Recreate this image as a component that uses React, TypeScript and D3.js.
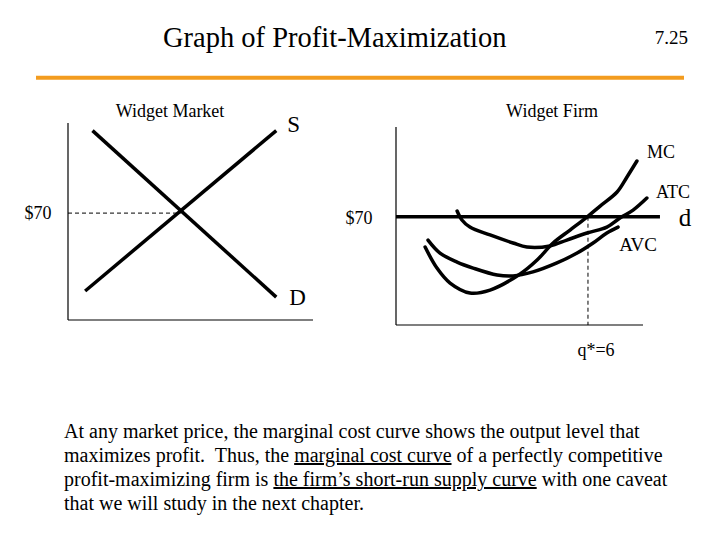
import React from "react";
import * as d3 from "d3";

// ── Data ────────────────────────────────────────────────────────────────────
// Widget market (quantity in arbitrary units, price in $)
const marketDemand: [number, number][] = [[10, 124], [85, 15]];
const marketSupply: [number, number][] = [[7, 19], [85, 124]];
const marketPrice = 70;
const marketQty = 46;

// Widget firm (quantity, $ per unit)
const mcCurve: [number, number][] = [
  [0.91, 50.4], [1.28, 36.8], [1.69, 27.1], [2.31, 20.7], [2.94, 22.6],
  [3.88, 33.0], [4.41, 42.0], [4.91, 53.0], [5.44, 61.4], [5.97, 69.8],
  [6.38, 76.9], [6.91, 86.0], [7.22, 95.7], [7.53, 106.0],
];
const avcCurve: [number, number][] = [
  [1.0, 54.9], [1.375, 46.5], [1.91, 40.7], [2.41, 36.8], [3.16, 32.3],
  [3.66, 31.7], [4.28, 34.3], [5.03, 40.1], [5.66, 46.5], [6.16, 53.0],
  [6.59, 59.5], [6.94, 63.3],
];
const atcCurve: [number, number][] = [
  [1.91, 73.7], [2.06, 67.9], [2.31, 63.3], [2.94, 58.2], [3.66, 53.0],
  [4.09, 50.4], [4.81, 51.1], [5.34, 54.9], [5.97, 59.5], [6.59, 63.3],
  [7.0, 69.2], [7.41, 74.3], [7.84, 82.1],
];
const firmPrice = 70;
const firmQStar = 6;
const firmDemandEnd = 8.25;

const paragraph = [
  [{ t: "At any market price, the marginal cost curve shows the output level that" }],
  [
    { t: "maximizes profit.  Thus, the " },
    { t: "marginal cost curve", u: true },
    { t: " of a perfectly competitive" },
  ],
  [
    { t: "profit-maximizing firm is " },
    { t: "the firm\u2019s short-run supply curve", u: true },
    { t: " with one caveat" },
  ],
  [{ t: "that we will study in the next chapter." }],
];

const FONT = "'Liberation Serif', 'Times New Roman', serif";

export default function App() {
  // market scales
  const mx = d3.scaleLinear().domain([0, 100]).range([68, 313]);
  const my = d3.scaleLinear().domain([0, 129]).range([320, 123]);
  // firm scales
  const fx = d3.scaleLinear().domain([0, 7.72]).range([396, 643]);
  const fy = d3.scaleLinear().domain([0, 128]).range([325, 127]);

  const mLine = d3.line<[number, number]>().x((d) => mx(d[0])).y((d) => my(d[1]));
  const fCurve = d3
    .line<[number, number]>()
    .x((d) => fx(d[0]))
    .y((d) => fy(d[1]))
    .curve(d3.curveCatmullRom);

  const [mx0, mx1] = mx.range();
  const [my0, my1] = my.range();
  const [fx0, fx1] = fx.range();
  const [fy0, fy1] = fy.range();

  return (
    <svg
      width={720}
      height={540}
      style={{ position: "absolute", left: 0, top: 0, background: "#fff" }}
      fontFamily={FONT}
    >
      <rect width={720} height={540} fill="#fff" />

      {/* header */}
      <text x={163} y={47} fontSize={28.5}>Graph of Profit-Maximization</text>
      <text x={688} y={44} fontSize={19} textAnchor="end">7.25</text>
      <line x1={36} x2={684} y1={77.7} y2={77.7} stroke="#f39c1f" strokeWidth={4} />

      {/* ── Widget market ── */}
      <text x={170} y={117} fontSize={18} textAnchor="middle">Widget Market</text>
      <line x1={mx0} x2={mx0} y1={my0} y2={my1} stroke="#000" strokeWidth={1.2} />
      <line x1={mx0} x2={mx1} y1={my0} y2={my0} stroke="#000" strokeWidth={1.2} />
      <line
        x1={mx0} x2={mx(marketQty)} y1={my(marketPrice)} y2={my(marketPrice)}
        stroke="#000" strokeWidth={1} strokeDasharray="4,3"
      />
      <path d={mLine(marketDemand) ?? ""} fill="none" stroke="#000" strokeWidth={3.5} />
      <path d={mLine(marketSupply) ?? ""} fill="none" stroke="#000" strokeWidth={3.5} />
      <text x={38} y={my(marketPrice) + 6} fontSize={18} textAnchor="middle">$70</text>
      <text x={mx(marketSupply[1][0]) + 11} y={my(marketSupply[1][1]) + 1} fontSize={23}>S</text>
      <text x={mx(marketDemand[1][0]) + 13} y={my(marketDemand[1][1]) + 8} fontSize={23}>D</text>

      {/* ── Widget firm ── */}
      <text x={552} y={117} fontSize={18} textAnchor="middle">Widget Firm</text>
      <line x1={fx0} x2={fx0} y1={fy0} y2={fy1} stroke="#000" strokeWidth={1.2} />
      <line x1={fx0} x2={fx1} y1={fy0} y2={fy0} stroke="#000" strokeWidth={1.2} />
      <line
        x1={fx(firmQStar)} x2={fx(firmQStar)} y1={fy(firmPrice)} y2={fy0}
        stroke="#000" strokeWidth={1} strokeDasharray="4,3"
      />
      <line
        x1={fx0} x2={fx(firmDemandEnd)} y1={fy(firmPrice)} y2={fy(firmPrice)}
        stroke="#000" strokeWidth={3.5}
      />
      <path d={fCurve(mcCurve) ?? ""} fill="none" stroke="#000" strokeWidth={3.5} strokeLinecap="round" />
      <path d={fCurve(atcCurve) ?? ""} fill="none" stroke="#000" strokeWidth={3.5} strokeLinecap="round" />
      <path d={fCurve(avcCurve) ?? ""} fill="none" stroke="#000" strokeWidth={3.5} strokeLinecap="round" />
      <text x={359} y={fy(firmPrice) + 7} fontSize={18} textAnchor="middle">$70</text>
      <text x={661} y={158} fontSize={18} textAnchor="middle">MC</text>
      <text x={673} y={198} fontSize={18} textAnchor="middle">ATC</text>
      <text x={685} y={fy(firmPrice) + 9} fontSize={25} textAnchor="middle">d</text>
      <text x={638} y={251} fontSize={19} textAnchor="middle">AVC</text>
      <text x={fx(firmQStar) + 8} y={356} fontSize={18} textAnchor="middle">q*=6</text>

      {/* ── caption ── */}
      <text fontSize={20} style={{ whiteSpace: "pre" }}>
        {paragraph.map((line, i) => (
          <tspan key={i} x={64} y={438 + i * 24}>
            {line.map((seg, j) => (
              <tspan key={j} style={seg.u ? { textDecoration: "underline" } : undefined}>
                {seg.t}
              </tspan>
            ))}
          </tspan>
        ))}
      </text>
    </svg>
  );
}
